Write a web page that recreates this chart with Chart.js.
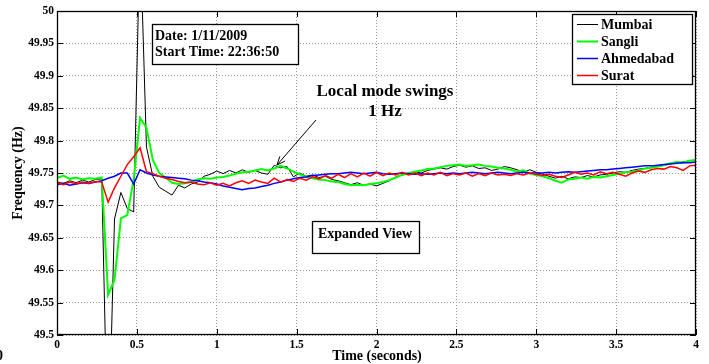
<!DOCTYPE html>
<html>
<head>
<meta charset="utf-8">
<script src="https://cdn.jsdelivr.net/npm/chart.js@4.4.1/dist/chart.umd.min.js"></script>
<style>
  body { margin: 0; background: #fff; }
  canvas { display: block; }
</style>
</head>
<body>
<canvas id="freqChart" width="709" height="364"></canvas>
<script>
// sampling step of the PMU records (seconds)
var timeStep = 0.04;

var xTicks = [0, 0.5, 1, 1.5, 2, 2.5, 3, 3.5, 4];
var xTickLabels = ['0', '0.5', '1', '1.5', '2', '2.5', '3', '3.5', '4'];
var yTicks = [49.5, 49.55, 49.6, 49.65, 49.7, 49.75, 49.8, 49.85, 49.9, 49.95, 50];
var yTickLabels = ['49.5', '49.55', '49.6', '49.65', '49.7', '49.75', '49.8', '49.85', '49.9', '49.95', '50'];

var seriesNames = ['Mumbai', 'Sangli', 'Ahmedabad', 'Surat'];
var seriesColors = ['#000000', '#00ff00', '#0000ff', '#ff0000'];

var mumbai = [
  49.736, 49.734, 49.738, 49.735, 49.739, 49.736, 49.740, 49.741, 49.30, 49.679,
  49.720, 49.695, 49.690, 50.12, 49.790, 49.745, 49.728, 49.722, 49.716, 49.731,
  49.727, 49.733, 49.736, 49.745, 49.748, 49.753, 49.749, 49.754, 49.750, 49.755,
  49.751, 49.754, 49.750, 49.748, 49.762, 49.758, 49.760, 49.744, 49.750, 49.745,
  49.747, 49.743, 49.745, 49.740, 49.738, 49.735, 49.732, 49.735, 49.731, 49.733,
  49.730, 49.734, 49.738, 49.744, 49.747, 49.749, 49.752, 49.750, 49.754, 49.756,
  49.758, 49.756, 49.760, 49.762, 49.759, 49.761, 49.757, 49.758, 49.754, 49.756,
  49.760, 49.758, 49.755, 49.751, 49.755, 49.751, 49.748, 49.745, 49.742, 49.745,
  49.741, 49.744, 49.743, 49.746, 49.744, 49.747, 49.748, 49.750, 49.752, 49.751,
  49.754, 49.756, 49.757, 49.759, 49.760, 49.762, 49.764, 49.766, 49.767, 49.769,
  49.770
];
var sangli = [
  49.742, 49.746, 49.741, 49.743, 49.740, 49.742, 49.741, 49.743, 49.562, 49.585,
  49.680, 49.685, 49.740, 49.835, 49.820, 49.770, 49.750, 49.743, 49.735, 49.733,
  49.734, 49.736, 49.740, 49.742, 49.741, 49.743, 49.744, 49.746, 49.749, 49.751,
  49.752, 49.754, 49.756, 49.754, 49.757, 49.761, 49.757, 49.752, 49.748, 49.744,
  49.742, 49.740, 49.739, 49.737, 49.736, 49.733, 49.731, 49.732, 49.731, 49.733,
  49.734, 49.736, 49.739, 49.743, 49.747, 49.750, 49.752, 49.754, 49.756, 49.757,
  49.759, 49.761, 49.762, 49.763, 49.761, 49.762, 49.763, 49.761, 49.760, 49.758,
  49.757, 49.755, 49.752, 49.754, 49.749, 49.747, 49.745, 49.742, 49.738, 49.735,
  49.740, 49.741, 49.743, 49.741, 49.744, 49.743, 49.745, 49.747, 49.749, 49.751,
  49.752, 49.754, 49.757, 49.758, 49.760, 49.762, 49.765, 49.767, 49.766, 49.769,
  49.770
];
var ahmedabad = [
  49.732, 49.734, 49.731, 49.733, 49.735, 49.734, 49.736, 49.738, 49.742, 49.745,
  49.750, 49.750, 49.733, 49.755, 49.750, 49.747, 49.745, 49.744, 49.743, 49.742,
  49.741, 49.739, 49.738, 49.736, 49.735, 49.733, 49.730, 49.728, 49.726, 49.724,
  49.726, 49.727, 49.729, 49.731, 49.734, 49.736, 49.739, 49.741, 49.743, 49.744,
  49.746, 49.747, 49.748, 49.749, 49.749, 49.750, 49.751, 49.750, 49.749, 49.750,
  49.751, 49.749, 49.748, 49.749, 49.750, 49.749, 49.748, 49.749, 49.748, 49.749,
  49.750, 49.749, 49.750, 49.749, 49.750, 49.751, 49.750, 49.749, 49.750, 49.751,
  49.750, 49.749, 49.750, 49.751, 49.750, 49.750, 49.750, 49.751, 49.750, 49.751,
  49.752, 49.751, 49.752, 49.753, 49.754, 49.755, 49.755, 49.756, 49.757, 49.758,
  49.759, 49.760, 49.761, 49.761, 49.762, 49.763, 49.764, 49.765, 49.766, 49.766,
  49.767
];
var surat = [
  49.735, 49.732, 49.736, 49.733, 49.736, 49.734, 49.737, 49.736, 49.705, 49.727,
  49.745, 49.763, 49.775, 49.789, 49.752, 49.749, 49.745, 49.742, 49.740, 49.737,
  49.735, 49.736, 49.733, 49.732, 49.735, 49.731, 49.734, 49.730, 49.735, 49.738,
  49.734, 49.739, 49.736, 49.734, 49.742, 49.736, 49.740, 49.737, 49.742, 49.739,
  49.744, 49.741, 49.746, 49.742, 49.748, 49.743, 49.749, 49.744, 49.750, 49.745,
  49.751, 49.746, 49.750, 49.747, 49.751, 49.747, 49.750, 49.746, 49.750, 49.747,
  49.751, 49.746, 49.749, 49.747, 49.750, 49.745, 49.749, 49.746, 49.750, 49.747,
  49.748, 49.746, 49.749, 49.747, 49.750, 49.748, 49.746, 49.748, 49.745, 49.743,
  49.747, 49.751, 49.748, 49.750, 49.747, 49.752, 49.749, 49.751, 49.748, 49.745,
  49.750, 49.753, 49.751, 49.755, 49.757, 49.756, 49.760, 49.758, 49.754, 49.761,
  49.762
];

var seriesValues = [mumbai, sangli, ahmedabad, surat];
var seriesWidths = [1, 2, 1.5, 1.5];

var serif = "'Liberation Serif', 'Times New Roman', serif";
Chart.defaults.font.family = serif;
Chart.defaults.font.weight = 'bold';
Chart.defaults.color = '#000';

function toPoints(values) {
  return values.map(function (v, i) {
    return { x: Math.round(i * timeStep * 100) / 100, y: v };
  });
}

// MATLAB style box, inner ticks, legend and notes
var matlabFrame = {
  id: 'matlabFrame',
  afterDatasetsDraw: function (chart) {
    var ctx = chart.ctx;
    var a = chart.chartArea;
    var xs = chart.scales.x;
    var ys = chart.scales.y;
    ctx.save();
    ctx.strokeStyle = '#000';
    ctx.lineWidth = 1;
    ctx.beginPath();
    xTicks.forEach(function (v) {
      var px = Math.round(xs.getPixelForValue(v)) + 0.5;
      ctx.moveTo(px, a.bottom); ctx.lineTo(px, a.bottom - 6);
      ctx.moveTo(px, a.top); ctx.lineTo(px, a.top + 6);
    });
    yTicks.forEach(function (v) {
      var py = Math.round(ys.getPixelForValue(v)) + 0.5;
      ctx.moveTo(a.left, py); ctx.lineTo(a.left + 6, py);
      ctx.moveTo(a.right, py); ctx.lineTo(a.right - 6, py);
    });
    ctx.stroke();
    ctx.lineWidth = 1.3;
    ctx.strokeRect(Math.round(a.left) + 0.5, Math.round(a.top) + 0.5,
      Math.round(a.width) - 1, Math.round(a.height) - 1);

    // legend
    ctx.fillStyle = '#fff';
    ctx.fillRect(572, 14, 120, 70);
    ctx.lineWidth = 1.3;
    ctx.strokeRect(572.5, 14.5, 120, 70);
    ctx.font = 'bold 14px ' + serif;
    ctx.textBaseline = 'middle';
    ctx.textAlign = 'left';
    seriesNames.forEach(function (name, i) {
      var y = 24 + i * 17;
      ctx.strokeStyle = seriesColors[i];
      ctx.lineWidth = seriesWidths[i];
      ctx.beginPath();
      ctx.moveTo(577, y + 0.5);
      ctx.lineTo(598, y + 0.5);
      ctx.stroke();
      ctx.fillStyle = '#000';
      ctx.fillText(name, 601, y + 1);
    });

    // date box
    ctx.fillStyle = '#fff';
    ctx.fillRect(152, 24, 146, 40);
    ctx.strokeStyle = '#000';
    ctx.lineWidth = 1.3;
    ctx.strokeRect(152.5, 24.5, 146, 40);
    ctx.fillStyle = '#000';
    ctx.font = 'bold 14px ' + serif;
    ctx.fillText('Date: 1/11/2009', 155, 36);
    ctx.fillText('Start Time: 22:36:50', 155, 52);

    // expanded view box
    ctx.fillStyle = '#fff';
    ctx.fillRect(312, 221, 107, 32);
    ctx.strokeRect(312.5, 221.5, 107, 32);
    ctx.fillStyle = '#000';
    ctx.textAlign = 'center';
    ctx.fillText('Expanded View', 365, 234);

    // local mode note and arrow
    ctx.font = 'bold 17px ' + serif;
    ctx.fillText('Local mode swings', 385, 92);
    ctx.fillText('1 Hz', 385, 112);
    ctx.lineWidth = 1;
    ctx.beginPath();
    ctx.moveTo(316, 120);
    ctx.lineTo(277, 165);
    ctx.stroke();
    var ang = Math.atan2(165 - 120, 277 - 316);
    ctx.beginPath();
    ctx.moveTo(277, 165);
    ctx.lineTo(277 - 9 * Math.cos(ang - 0.4), 165 - 9 * Math.sin(ang - 0.4));
    ctx.moveTo(277, 165);
    ctx.lineTo(277 - 9 * Math.cos(ang + 0.4), 165 - 9 * Math.sin(ang + 0.4));
    ctx.stroke();

    // axis titles
    ctx.font = 'bold 14px ' + serif;
    ctx.fillText('Time (seconds)', 377, 356);
    ctx.textAlign = 'left';
    ctx.fillText('0', -4, 356);
    ctx.save();
    ctx.translate(18, 173);
    ctx.rotate(-Math.PI / 2);
    ctx.textAlign = 'center';
    ctx.fillText('Frequency (Hz)', 0, 0);
    ctx.restore();
    ctx.restore();
  }
};

var ctx = document.getElementById('freqChart').getContext('2d');
var freqChart = new Chart(ctx, {
  type: 'line',
  data: {
    datasets: seriesNames.map(function (name, i) {
      return {
        label: name,
        data: toPoints(seriesValues[i]),
        borderColor: seriesColors[i],
        backgroundColor: seriesColors[i],
        borderWidth: seriesWidths[i],
        pointRadius: 0,
        tension: 0,
        fill: false,
        order: 3 - i
      };
    })
  },
  options: {
    responsive: false,
    animation: false,
    devicePixelRatio: 1,
    layout: { padding: { left: 0, right: 13, top: 11, bottom: 0 } },
    plugins: {
      legend: { display: false },
      tooltip: { enabled: false }
    },
    scales: {
      x: {
        type: 'linear',
        min: 0,
        max: 4,
        afterBuildTicks: function (scale) {
          scale.ticks = xTicks.map(function (v) { return { value: v }; });
        },
        afterFit: function (scale) { scale.height = 29; },
        ticks: {
          autoSkip: false,
          maxRotation: 0,
          padding: 3,
          font: { size: 11.5, weight: 'bold' },
          callback: function (v) { return xTickLabels[xTicks.indexOf(v)]; }
        },
        grid: { color: '#9a9a9a', lineWidth: 1, drawTicks: false },
        border: { display: false, dash: [1, 2] }
      },
      y: {
        min: 49.5,
        max: 50,
        afterBuildTicks: function (scale) {
          scale.ticks = yTicks.map(function (v) { return { value: v }; });
        },
        afterFit: function (scale) { scale.width = 57; },
        ticks: {
          autoSkip: false,
          padding: 3,
          font: { size: 11.5, weight: 'bold' },
          callback: function (v) { return yTickLabels[yTicks.indexOf(v)]; }
        },
        grid: { color: '#9a9a9a', lineWidth: 1, drawTicks: false },
        border: { display: false, dash: [1, 2] }
      }
    }
  },
  plugins: [matlabFrame]
});
</script>
</body>
</html>
